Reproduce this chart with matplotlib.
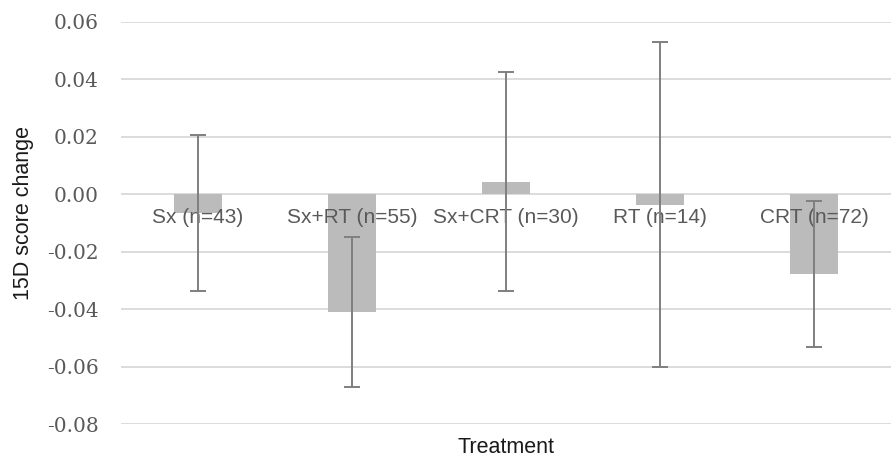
import matplotlib
matplotlib.use('Agg')
import matplotlib.pyplot as plt
import numpy as np

# 15D score change by treatment group (mean with symmetric error)
treatments = ['Sx (n=43)', 'Sx+RT (n=55)', 'Sx+CRT (n=30)', 'RT (n=14)', 'CRT (n=72)']
mean_change = [-0.0065, -0.0409, 0.0044, -0.0036, -0.0277]
error_half = [0.0270, 0.0260, 0.0381, 0.0564, 0.0253]
y_ticks = [-0.08, -0.06, -0.04, -0.02, 0.00, 0.02, 0.04, 0.06]

bar_color = '#BBBBBB'
err_color = '#7F7F7F'
text_gray = '#595959'

fig = plt.figure(figsize=(8.91, 4.59), dpi=100)
ax = fig.add_axes([0.1358, 0.0756, 0.8642, 0.8771])

x = np.arange(len(treatments))
ax.bar(x, mean_change, width=0.31, color=bar_color, zorder=2)
ax.errorbar(x, mean_change, yerr=error_half, fmt='none', ecolor=err_color,
            elinewidth=1.4, capsize=6, capthick=1.4, zorder=4)

# category labels sit just under the zero line (Excel "next to axis")
for i, name in enumerate(treatments):
    ax.annotate(name, xy=(x[i], 0), xytext=(0, -17), textcoords='offset points',
                ha='center', va='center', fontsize=15, color=text_gray,
                family='Liberation Sans', zorder=3)

ax.set_xlim(-0.5, len(treatments) - 0.5)
ax.set_ylim(-0.08, 0.06)
ax.set_yticks(y_ticks)
ax.set_yticklabels([f'{v:.2f}' for v in y_ticks], family='DejaVu Serif',
                   fontsize=14.5, color=text_gray)
ax.set_xticks([])
ax.tick_params(axis='y', length=0, pad=16)
ax.grid(axis='y', color='#D9D9D9', linewidth=1.3, zorder=0)
ax.set_axisbelow(True)
for s in ax.spines.values():
    s.set_visible(False)

ax.set_ylabel('15D score change', family='Liberation Sans', fontsize=15.5, color='#1a1a1a')
ax.yaxis.set_label_coords(-0.127, 0.525)
ax.yaxis.label.set_va('center')
ax.set_xlabel('Treatment', family='Liberation Sans', fontsize=15.5, color='#1a1a1a')
ax.xaxis.label.set_va('center')
ax.xaxis.set_label_coords(0.5, -0.058)

fig.savefig('out.png', dpi=100)
